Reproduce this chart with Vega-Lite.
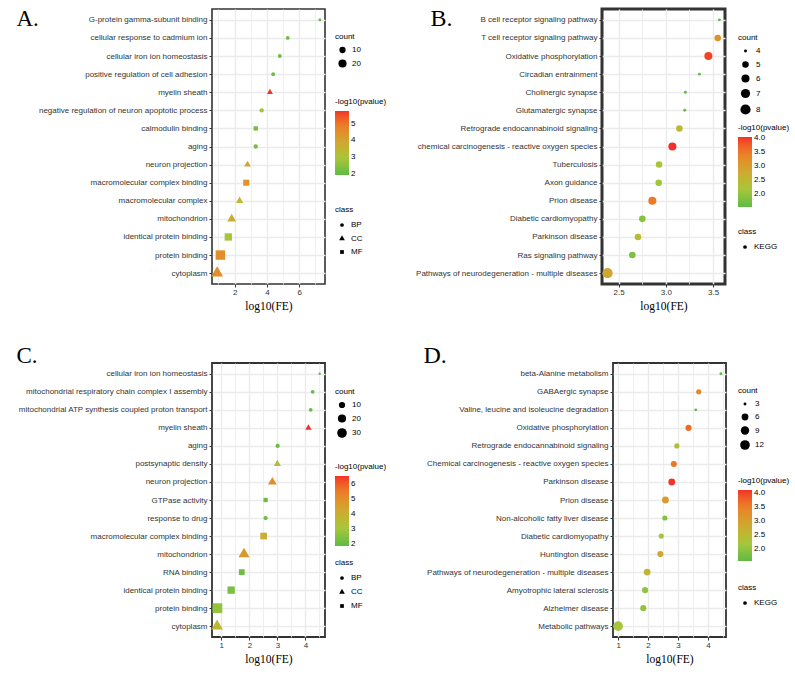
{
  "$schema": "https://vega.github.io/schema/vega-lite/v6.json",
  "autosize": {"type": "none"},
  "padding": {"left": 212, "top": 9, "right": 583, "bottom": 665},
  "background": "white",
  "config": {
    "font": "Liberation Sans",
    "axis": {"labelFontSize": 8, "labelColor": "#333", "tickColor": "#333", "tickSize": 3, "domain": false, "gridColor": "#ebebeb", "labelPadding": 2, "titleFont": "Liberation Serif", "titleFontWeight": "normal", "titleColor": "#000"},
    "axisX": {"titleFontSize": 11.5, "titlePadding": 4, "labelPadding": 1},
    "axisY": {"grid": true, "gridWidth": 1.4, "labelLimit": 400, "titleAngle": 0, "titleAlign": "left", "titleBaseline": "alphabetic", "titleFontSize": 23},
    "legend": {"titleFontSize": 8, "titleFontWeight": "normal", "titleColor": "#000", "labelFontSize": 8, "labelColor": "#000", "padding": 0, "titlePadding": 5, "rowPadding": 5, "orient": "none", "gradientThickness": 14, "labelOffset": 5}
  },
  "datasets": {
    "A": [
      {"term": "G-protein gamma-subunit binding", "fe": 7.28, "count": 2, "p": 1.92, "class": "MF"},
      {"term": "cellular response to cadmium ion", "fe": 5.29, "count": 3, "p": 2.1, "class": "BP"},
      {"term": "cellular iron ion homeostasis", "fe": 4.80, "count": 3, "p": 2.1, "class": "BP"},
      {"term": "positive regulation of cell adhesion", "fe": 4.39, "count": 3, "p": 2.1, "class": "BP"},
      {"term": "myelin sheath", "fe": 4.19, "count": 3, "p": 5.76, "class": "CC"},
      {"term": "negative regulation of neuron apoptotic process", "fe": 3.68, "count": 4, "p": 2.8, "class": "BP"},
      {"term": "calmodulin binding", "fe": 3.31, "count": 4, "p": 2.2, "class": "MF"},
      {"term": "aging", "fe": 3.31, "count": 4, "p": 2.2, "class": "BP"},
      {"term": "neuron projection", "fe": 2.80, "count": 4, "p": 4.0, "class": "CC"},
      {"term": "macromolecular complex binding", "fe": 2.72, "count": 9, "p": 4.4, "class": "MF"},
      {"term": "macromolecular complex", "fe": 2.31, "count": 5, "p": 3.3, "class": "CC"},
      {"term": "mitochondrion", "fe": 1.82, "count": 8, "p": 3.7, "class": "CC"},
      {"term": "identical protein binding", "fe": 1.61, "count": 15, "p": 2.9, "class": "MF"},
      {"term": "protein binding", "fe": 1.12, "count": 29, "p": 4.5, "class": "MF"},
      {"term": "cytoplasm", "fe": 0.92, "count": 18, "p": 4.5, "class": "CC"}
    ],
    "B": [
      {"term": "B cell receptor signaling pathway", "fe": 3.567, "count": 4, "p": 1.55, "class": "KEGG"},
      {"term": "T cell receptor signaling pathway", "fe": 3.549, "count": 5, "p": 3.2, "class": "KEGG"},
      {"term": "Oxidative phosphorylation", "fe": 3.45, "count": 6, "p": 3.95, "class": "KEGG"},
      {"term": "Circadian entrainment", "fe": 3.355, "count": 4, "p": 1.6, "class": "KEGG"},
      {"term": "Cholinergic synapse", "fe": 3.207, "count": 4, "p": 1.6, "class": "KEGG"},
      {"term": "Glutamatergic synapse", "fe": 3.20, "count": 4, "p": 1.6, "class": "KEGG"},
      {"term": "Retrograde endocannabinoid signaling", "fe": 3.143, "count": 5, "p": 2.5, "class": "KEGG"},
      {"term": "chemical carcinogenesis - reactive oxygen species", "fe": 3.069, "count": 6, "p": 4.05, "class": "KEGG"},
      {"term": "Tuberculosis", "fe": 2.928, "count": 5, "p": 2.2, "class": "KEGG"},
      {"term": "Axon guidance", "fe": 2.924, "count": 5, "p": 2.1, "class": "KEGG"},
      {"term": "Prion disease", "fe": 2.857, "count": 6, "p": 3.5, "class": "KEGG"},
      {"term": "Diabetic cardiomyopathy", "fe": 2.751, "count": 5, "p": 1.9, "class": "KEGG"},
      {"term": "Parkinson disease", "fe": 2.705, "count": 5, "p": 2.4, "class": "KEGG"},
      {"term": "Ras signaling pathway", "fe": 2.645, "count": 5, "p": 1.8, "class": "KEGG"},
      {"term": "Pathways of neurodegeneration - multiple diseases", "fe": 2.383, "count": 8, "p": 2.85, "class": "KEGG"}
    ],
    "C": [
      {"term": "cellular iron ion homeostasis", "fe": 4.51, "count": 2, "p": 1.9, "class": "BP"},
      {"term": "mitochondrial respiratory chain complex I assembly", "fe": 4.26, "count": 3, "p": 2.0, "class": "BP"},
      {"term": "mitochondrial ATP synthesis coupled proton transport", "fe": 4.19, "count": 3, "p": 2.0, "class": "BP"},
      {"term": "myelin sheath", "fe": 4.11, "count": 4, "p": 6.5, "class": "CC"},
      {"term": "aging", "fe": 3.01, "count": 4, "p": 2.1, "class": "BP"},
      {"term": "postsynaptic density", "fe": 3.00, "count": 5, "p": 3.3, "class": "CC"},
      {"term": "neuron projection", "fe": 2.82, "count": 8, "p": 5.0, "class": "CC"},
      {"term": "GTPase activity", "fe": 2.58, "count": 4, "p": 2.1, "class": "MF"},
      {"term": "response to drug", "fe": 2.58, "count": 4, "p": 2.1, "class": "BP"},
      {"term": "macromolecular complex binding", "fe": 2.51, "count": 12, "p": 4.0, "class": "MF"},
      {"term": "mitochondrion", "fe": 1.81, "count": 15, "p": 4.7, "class": "CC"},
      {"term": "RNA binding", "fe": 1.73, "count": 8, "p": 2.1, "class": "MF"},
      {"term": "identical protein binding", "fe": 1.35, "count": 15, "p": 2.3, "class": "MF"},
      {"term": "protein binding", "fe": 0.86, "count": 31, "p": 2.7, "class": "MF"},
      {"term": "cytoplasm", "fe": 0.85, "count": 17, "p": 3.6, "class": "CC"}
    ],
    "D": [
      {"term": "beta-Alanine metabolism", "fe": 4.43, "count": 3, "p": 1.6, "class": "KEGG"},
      {"term": "GABAergic synapse", "fe": 3.69, "count": 4, "p": 3.4, "class": "KEGG"},
      {"term": "Valine, leucine and isoleucine degradation", "fe": 3.59, "count": 3, "p": 1.6, "class": "KEGG"},
      {"term": "Oxidative phosphorylation", "fe": 3.35, "count": 5, "p": 3.7, "class": "KEGG"},
      {"term": "Retrograde endocannabinoid signaling", "fe": 2.96, "count": 4, "p": 2.4, "class": "KEGG"},
      {"term": "Chemical carcinogenesis - reactive oxygen species", "fe": 2.86, "count": 5, "p": 3.6, "class": "KEGG"},
      {"term": "Parkinson disease", "fe": 2.79, "count": 6, "p": 4.1, "class": "KEGG"},
      {"term": "Prion disease", "fe": 2.58, "count": 6, "p": 3.1, "class": "KEGG"},
      {"term": "Non-alcoholic fatty liver disease", "fe": 2.56, "count": 4, "p": 1.9, "class": "KEGG"},
      {"term": "Diabetic cardiomyopathy", "fe": 2.44, "count": 4, "p": 2.2, "class": "KEGG"},
      {"term": "Huntington disease", "fe": 2.41, "count": 5, "p": 2.9, "class": "KEGG"},
      {"term": "Pathways of neurodegeneration - multiple diseases", "fe": 1.97, "count": 6, "p": 2.6, "class": "KEGG"},
      {"term": "Amyotrophic lateral sclerosis", "fe": 1.90, "count": 5, "p": 2.0, "class": "KEGG"},
      {"term": "Alzheimer disease", "fe": 1.84, "count": 5, "p": 2.0, "class": "KEGG"},
      {"term": "Metabolic pathways", "fe": 1.0, "count": 12, "p": 2.2, "class": "KEGG"}
    ]
  },
  "spacing": 29,
  "resolve": {"scale": {"x": "independent", "y": "independent", "color": "independent", "size": "independent", "shape": "independent"}, "legend": {"color": "independent", "size": "independent", "shape": "independent"}, "axis": {"x": "independent", "y": "independent"}},
  "vconcat": [
    {
      "spacing": 12,
      "resolve": {"scale": {"x": "independent", "y": "independent", "color": "independent", "size": "independent", "shape": "independent"}, "legend": {"color": "independent", "size": "independent", "shape": "independent"}, "axis": {"x": "independent", "y": "independent"}},
      "hconcat": [
        {
          "data": {"name": "A"},
          "width": 113, "height": 275,
          "view": {"stroke": "#333", "strokeWidth": 1.6},
          "mark": {"type": "point", "filled": true, "opacity": 1},
          "encoding": {
            "y": {"field": "term", "type": "nominal", "sort": null, "scale": {"type": "point", "padding": 0.6},
              "axis": {"title": "A.", "titleX": -196, "titleY": 16, "minExtent": 206}},
            "x": {"field": "fe", "type": "quantitative", "title": "log10(FE)", "scale": {"domain": [0.6, 7.6], "nice": false, "zero": false},
              "axis": {"values": [1, 2, 3, 4, 5, 6, 7], "labelExpr": "datum.value % 2 === 0 ? format(datum.value, 'd') : ''",
                "tickOpacity": {"condition": {"test": "datum.value % 2 === 0", "value": 1}, "value": 0},
                "gridWidth": {"condition": {"test": "datum.value % 2 === 0", "value": 1.4}, "value": 0.8}}},
            "color": {"field": "p", "type": "quantitative",
              "scale": {"domain": [1.92, 2.88, 3.84, 4.8, 5.76], "range": ["#5dba47", "#a6c63c", "#cea934", "#ea812b", "#f3302a"]},
              "legend": {"title": "-log10(pvalue)", "values": [2, 3, 4, 5], "legendX": 123, "legendY": 89, "gradientLength": 64}},
            "size": {"field": "count", "type": "quantitative",
              "scale": {"domain": [2, 3, 5, 8, 12, 18, 24, 29], "range": [6.2, 14.7, 23.2, 33.4, 45.5, 61.9, 77.4, 89.9], "zero": false},
              "legend": {"title": "count", "values": [10, 20], "legendX": 123, "legendY": 24, "symbolOffset": 3, "symbolType": "circle", "symbolFillColor": "#000", "symbolStrokeWidth": 0}},
            "shape": {"field": "class", "type": "nominal", "scale": {"domain": ["BP", "CC", "MF"], "range": ["circle", "M0,-1.755L1.52,0.878L-1.52,0.878Z", "square"]},
              "legend": {"title": "class", "legendX": 123, "legendY": 197, "titlePadding": 7, "rowPadding": 5.5, "symbolOffset": 3, "symbolSize": 14, "symbolFillColor": "#000", "symbolStrokeWidth": 0}}
          }
        },
        {
          "data": {"name": "B"},
          "width": 123, "height": 275,
          "view": {"stroke": "#333", "strokeWidth": 3},
          "mark": {"type": "point", "filled": true, "opacity": 1},
          "encoding": {
            "y": {"field": "term", "type": "nominal", "sort": null, "scale": {"type": "point", "padding": 0.6},
              "axis": {"title": "B.", "titleX": -172, "titleY": 16, "titleFontSize": 24, "minExtent": 200}},
            "x": {"field": "fe", "type": "quantitative", "title": "log10(FE)", "scale": {"domain": [2.324, 3.626], "nice": false, "zero": false},
              "axis": {"values": [2.5, 2.75, 3, 3.25, 3.5], "labelExpr": "(datum.value * 2) % 1 === 0 ? format(datum.value, '.1f') : ''",
                "tickOpacity": {"condition": {"test": "(datum.value * 2) % 1 === 0", "value": 1}, "value": 0},
                "gridWidth": {"condition": {"test": "(datum.value * 2) % 1 === 0", "value": 1.4}, "value": 0.8}}},
            "color": {"field": "p", "type": "quantitative",
              "scale": {"domain": [1.55, 2.175, 2.8, 3.425, 4.05], "range": ["#5dba47", "#a6c63c", "#cea934", "#ea812b", "#f3302a"]},
              "legend": {"title": "-log10(pvalue)", "values": [2, 2.5, 3, 3.5, 4], "format": ".1f", "legendX": 136, "legendY": 115, "gradientLength": 70}},
            "size": {"field": "count", "type": "quantitative",
              "scale": {"domain": [4, 5, 6, 7, 8], "range": [8.6, 43, 65, 84.9, 103.9], "zero": false},
              "legend": {"title": "count", "values": [4, 5, 6, 7, 8], "legendX": 136, "legendY": 25, "rowPadding": 5.5, "symbolOffset": 2, "symbolType": "circle", "symbolFillColor": "#000", "symbolStrokeWidth": 0}},
            "shape": {"field": "class", "type": "nominal", "scale": {"domain": ["KEGG"], "range": ["circle"]},
              "legend": {"title": "class", "legendX": 136, "legendY": 219, "titlePadding": 7, "symbolOffset": 3, "symbolSize": 14, "symbolFillColor": "#000", "symbolStrokeWidth": 0}}
          }
        }
      ]
    },
    {
      "spacing": 13,
      "resolve": {"scale": {"x": "independent", "y": "independent", "color": "independent", "size": "independent", "shape": "independent"}, "legend": {"color": "independent", "size": "independent", "shape": "independent"}, "axis": {"x": "independent", "y": "independent"}},
      "hconcat": [
        {
          "data": {"name": "C"},
          "width": 113, "height": 274,
          "view": {"stroke": "#333", "strokeWidth": 1.8},
          "mark": {"type": "point", "filled": true, "opacity": 1},
          "encoding": {
            "y": {"field": "term", "type": "nominal", "sort": null, "scale": {"type": "point", "padding": 0.6},
              "axis": {"title": "C.", "titleX": -196, "titleY": -1, "minExtent": 206}},
            "x": {"field": "fe", "type": "quantitative", "title": "log10(FE)", "scale": {"domain": [0.667, 4.7], "nice": false, "zero": false},
              "axis": {"values": [1, 1.5, 2, 2.5, 3, 3.5, 4, 4.5], "labelExpr": "datum.value % 1 === 0 ? format(datum.value, 'd') : ''",
                "tickOpacity": {"condition": {"test": "datum.value % 1 === 0", "value": 1}, "value": 0},
                "gridWidth": {"condition": {"test": "datum.value % 1 === 0", "value": 1.4}, "value": 0.8}}},
            "color": {"field": "p", "type": "quantitative",
              "scale": {"domain": [1.85, 3.0125, 4.175, 5.3375, 6.5], "range": ["#5dba47", "#a6c63c", "#cea934", "#ea812b", "#f3302a"]},
              "legend": {"title": "-log10(pvalue)", "values": [2, 3, 4, 5, 6], "legendX": 123, "legendY": 100, "gradientLength": 70}},
            "size": {"field": "count", "type": "quantitative",
              "scale": {"domain": [2, 3, 5, 8, 12, 17, 24, 31], "range": [5.7, 14.1, 22.6, 33, 45, 59, 77.4, 95], "zero": false},
              "legend": {"title": "count", "values": [10, 20, 30], "legendX": 123, "legendY": 25, "symbolOffset": 2, "symbolType": "circle", "symbolFillColor": "#000", "symbolStrokeWidth": 0}},
            "shape": {"field": "class", "type": "nominal", "scale": {"domain": ["BP", "CC", "MF"], "range": ["circle", "M0,-1.755L1.52,0.878L-1.52,0.878Z", "square"]},
              "legend": {"title": "class", "legendX": 123, "legendY": 196, "titlePadding": 7, "rowPadding": 6, "symbolOffset": 3, "symbolSize": 14, "symbolFillColor": "#000", "symbolStrokeWidth": 0}}
          }
        },
        {
          "data": {"name": "D"},
          "width": 113, "height": 274,
          "view": {"stroke": "#333", "strokeWidth": 1.8},
          "mark": {"type": "point", "filled": true, "opacity": 1},
          "encoding": {
            "y": {"field": "term", "type": "nominal", "sort": null, "scale": {"type": "point", "padding": 0.6},
              "axis": {"title": "D.", "titleX": -190, "titleY": -1, "titleFontSize": 24, "minExtent": 211}},
            "x": {"field": "fe", "type": "quantitative", "title": "log10(FE)", "scale": {"domain": [0.83, 4.6], "nice": false, "zero": false},
              "axis": {"values": [1, 1.5, 2, 2.5, 3, 3.5, 4, 4.5], "labelExpr": "datum.value % 1 === 0 ? format(datum.value, 'd') : ''",
                "tickOpacity": {"condition": {"test": "datum.value % 1 === 0", "value": 1}, "value": 0},
                "gridWidth": {"condition": {"test": "datum.value % 1 === 0", "value": 1.4}, "value": 0.8}}},
            "color": {"field": "p", "type": "quantitative",
              "scale": {"domain": [1.57, 2.2075, 2.845, 3.4825, 4.12], "range": ["#5dba47", "#a6c63c", "#cea934", "#ea812b", "#f3302a"]},
              "legend": {"title": "-log10(pvalue)", "values": [2, 2.5, 3, 3.5, 4], "format": ".1f", "legendX": 125, "legendY": 114, "gradientLength": 71}},
            "size": {"field": "count", "type": "quantitative",
              "scale": {"domain": [3, 4, 5, 6, 7, 9, 12], "range": [8.6, 26.7, 37.2, 46.4, 55, 70.9, 93.3], "zero": false},
              "legend": {"title": "count", "values": [3, 6, 9, 12], "legendX": 125, "legendY": 24, "symbolOffset": 2, "symbolType": "circle", "symbolFillColor": "#000", "symbolStrokeWidth": 0}},
            "shape": {"field": "class", "type": "nominal", "scale": {"domain": ["KEGG"], "range": ["circle"]},
              "legend": {"title": "class", "legendX": 125, "legendY": 221, "titlePadding": 7, "symbolOffset": 3, "symbolSize": 14, "symbolFillColor": "#000", "symbolStrokeWidth": 0}}
          }
        }
      ]
    }
  ]
}
